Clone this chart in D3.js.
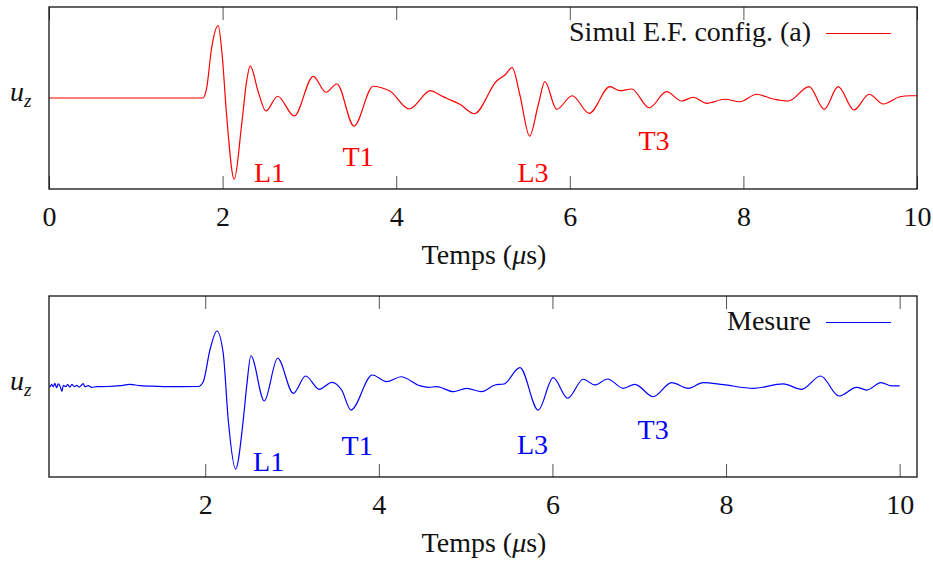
<!DOCTYPE html>
<html>
<head>
<meta charset="utf-8">
<script src="https://cdn.jsdelivr.net/npm/d3@7"></script>
<style>
  html, body { margin: 0; padding: 0; background: #fff; }
  svg text { font-family: "Liberation Serif", "Times New Roman", serif; }
</style>
</head>
<body>
<svg id="chart" width="933" height="561"></svg>
<script>
// ---- Data ----------------------------------------------------------------
// Simulated vertical displacement (finite elements, configuration a)
const simTime = [0, 1.773, 1.816, 1.873, 1.949, 1.995, 2.046, 2.134, 2.219, 2.276, 2.318, 2.41,
  2.499, 2.634, 2.825, 3.044, 3.19, 3.317, 3.513, 3.735, 3.83, 3.927, 4.15, 4.396, 4.503, 4.58,
  4.734, 4.899, 5.157, 5.252, 5.336, 5.425, 5.537, 5.636, 5.713, 5.848, 6.028, 6.224, 6.462,
  6.577, 6.712, 6.915, 7.115, 7.288, 7.422, 7.576, 7.787, 7.96, 8.152, 8.343, 8.516, 8.758,
  8.931, 9.092, 9.273, 9.449, 9.611, 9.803, 9.92, 10];
const simUz = [0, 0, 0.107, 0.547, 0.795, 0.473, -0.187, -0.893, -0.297, 0.179, 0.352, 0.069,
  -0.143, 0.019, -0.198, 0.238, 0.063, 0.154, -0.308, 0.129, 0.113, 0.077, -0.121, 0.08, 0.033, -0.003,
  -0.069, -0.173, 0.187, 0.253, 0.333, 0.033, -0.418, -0.077, 0.179, -0.124, 0.025, -0.168, 0.124,
  0.08, 0.099, -0.107, 0.069, -0.033, 0.008, -0.058, -0.014, -0.041, 0.041, -0.011, -0.033, 0.124,
  -0.124, 0.124, -0.132, 0.041, -0.066, 0.014, 0.025, 0.025];

// Measured vertical displacement
const mesTime = [0.203, 0.211, 0.23, 0.249, 0.268, 0.288, 0.306, 0.326, 0.349, 0.364, 0.392, 0.415,
  0.441, 0.464, 0.491, 0.518, 0.548, 0.576, 0.594, 0.614, 0.652, 0.691, 0.749, 0.864, 1.017, 1.132,
  1.248, 1.44, 1.631, 1.919, 1.977, 2.054, 2.135, 2.207, 2.265, 2.35, 2.438, 2.477, 2.526, 2.68,
  2.834, 3.014, 3.157, 3.313, 3.46, 3.571, 3.679, 3.924, 4.09, 4.255, 4.473, 4.569, 4.666, 4.857,
  5.012, 5.184, 5.338, 5.441, 5.626, 5.836, 6.009, 6.175, 6.355, 6.49, 6.636, 6.816, 6.95, 7.161,
  7.373, 7.565, 7.737, 7.968, 8.313, 8.659, 8.871, 9.09, 9.301, 9.505, 9.62, 9.785, 9.908, 10.0];
const mesUz = [0, -0.002, 0.024, -0.002, 0.035, -0.013, 0.028, 0.006, -0.053, 0.013, -0.002, 0.02,
  -0.006, 0.024, -0.002, 0.013, -0.006, 0.017, 0.031, -0.002, 0.009, -0.009, -0.002, 0, 0.009, 0.024,
  0.009, 0.002, -0.002, 0, 0.053, 0.403, 0.613, 0.367, -0.37, -0.912, -0.37, -0.002, 0.34, -0.16,
  0.312, -0.075, 0.116, -0.031, 0.046, -0.039, -0.26, 0.127, 0.053, 0.108, 0.009, -0.009, -0.002, -0.057,
  -0.02, -0.057, 0.017, 0.028, 0.208, -0.26, 0.097, -0.13, 0.08, 0.017, 0.083, -0.02, 0.024, -0.113,
  0.042, -0.02, 0.042, 0.02, -0.02, 0.028, -0.031, 0.116, -0.105, -0.009, -0.039, 0.042, 0.006, 0.006];

// Wave arrival labels (text, time, level of the text baseline)
const waveNames = ["L1", "T1", "L3", "T3"];
const simNameTime = [2.54, 3.56, 5.576, 6.97];
const simNameUz = [-0.92, -0.75, -0.92, -0.57];
const mesNameTime = [2.73, 3.75, 5.77, 7.16];
const mesNameUz = [-0.93, -0.76, -0.75, -0.575];

const simTicks = [0, 2, 4, 6, 8, 10];
const mesTicks = [2, 4, 6, 8, 10];

// ---- Drawing ---------------------------------------------------------------
const svg = d3.select("#chart");
const FONT = 28;

function panel(opts) {
  const { top, bottom, left, right, domain, ticks, time, uz, color, legend,
          nameTime, nameUz } = opts;
  const g = svg.append("g");
  const x = d3.scaleLinear().domain(domain).range([left, right]);
  const y = d3.scaleLinear().domain([-1, 1]).range([bottom, top]);

  // inward ticks on bottom and top edges
  const axB = g.append("g").attr("transform", `translate(0,${bottom})`)
    .call(d3.axisBottom(x).tickValues(ticks).tickSize(-13).tickPadding(17)
      .tickFormat(d3.format("d")));
  axB.select(".domain").remove();
  axB.selectAll(".tick line").attr("stroke", "#555").attr("stroke-width", 1);
  axB.selectAll(".tick text").attr("font-size", FONT).attr("fill", "#111")
    .style("font-family", "Liberation Serif");

  const axT = g.append("g").attr("transform", `translate(0,${top})`)
    .call(d3.axisTop(x).tickValues(ticks).tickSize(-13).tickFormat(""));
  axT.select(".domain").remove();
  axT.selectAll(".tick line").attr("stroke", "#555").attr("stroke-width", 1);

  // signal
  const line = d3.line()
    .x((d, i) => x(time[i]))
    .y(d => y(d))
    .curve(d3.curveMonotoneX);
  g.append("path").datum(uz)
    .attr("d", line)
    .attr("fill", "none")
    .attr("stroke", color)
    .attr("stroke-width", 1.2);

  // frame
  g.append("rect")
    .attr("x", left).attr("y", top)
    .attr("width", right - left).attr("height", bottom - top)
    .attr("fill", "none").attr("stroke", "#111").attr("stroke-width", 1.3);

  // y label u_z
  const uzLabel = g.append("text")
    .attr("x", 10).attr("y", y(0) + 3)
    .attr("font-size", FONT).attr("font-style", "italic").attr("fill", "#111");
  uzLabel.append("tspan").text("u");
  uzLabel.append("tspan").attr("font-size", 19).attr("dy", 6).text("z");

  // x label
  const xl = g.append("text")
    .attr("x", (left + right) / 2 + 1).attr("y", bottom + 75)
    .attr("text-anchor", "middle").attr("font-size", FONT).attr("fill", "#111");
  xl.append("tspan").text("Temps (");
  xl.append("tspan").attr("font-style", "italic").text("\u03bc");
  xl.append("tspan").text("s)");

  // wave names
  g.selectAll("text.wave").data(waveNames).join("text")
    .attr("class", "wave")
    .attr("x", (d, i) => x(nameTime[i]))
    .attr("y", (d, i) => y(nameUz[i]))
    .attr("text-anchor", "middle")
    .attr("font-size", FONT)
    .attr("fill", color)
    .text(d => d);

  // legend
  g.append("text")
    .attr("x", 811).attr("y", top + 34)
    .attr("text-anchor", "end").attr("font-size", FONT).attr("fill", "#111")
    .text(legend);
  g.append("line")
    .attr("x1", 826).attr("x2", 891)
    .attr("y1", top + 26.5).attr("y2", top + 26.5)
    .attr("stroke", color).attr("stroke-width", 1.2);
}

panel({ top: 7, bottom: 189, left: 49, right: 917, domain: [0, 10], ticks: simTicks,
  time: simTime, uz: simUz, color: "#ff0000", legend: "Simul E.F. config. (a)",
  nameTime: simNameTime, nameUz: simNameUz });

panel({ top: 296, bottom: 477, left: 49, right: 917, domain: [0.2, 10.2], ticks: mesTicks,
  time: mesTime, uz: mesUz, color: "#0000ff", legend: "Mesure",
  nameTime: mesNameTime, nameUz: mesNameUz });
</script>
</body>
</html>
